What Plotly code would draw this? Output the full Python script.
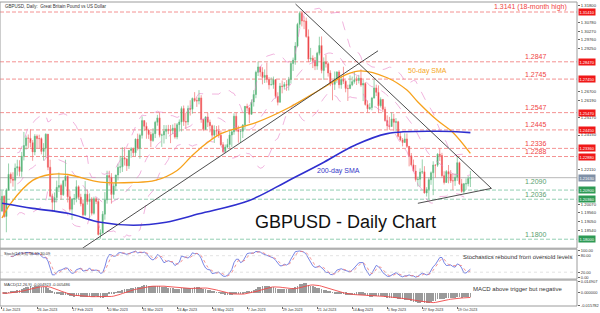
import plotly.graph_objects as go
import pandas as pd

# ---------------- data (GBPUSD daily, 4 Jan 2023 - 31 Oct 2023) ----------------
first_open = 1.1966
close = [1.2053, 1.1934, 1.2091, 1.2183, 1.2156, 1.2148, 1.2220, 1.2228, 1.2200, 1.2290,
         1.2353, 1.2398, 1.2396, 1.2370, 1.2315, 1.2408, 1.2394, 1.2394, 1.2318, 1.2337,
         1.2420, 1.2225, 1.2054, 1.2018, 1.2046, 1.2106, 1.2117, 1.2063, 1.2145, 1.2172,
         1.2050, 1.1977, 1.2038, 1.2040, 1.2110, 1.2048, 1.2009, 1.1944, 1.2066, 1.2022,
         1.2036, 1.1953, 1.2039, 1.2023, 1.1828, 1.1837, 1.1948, 1.2032, 1.2176, 1.2166,
         1.2064, 1.2114, 1.2179, 1.2224, 1.2227, 1.2281, 1.2273, 1.2233, 1.2324, 1.2334,
         1.2310, 1.2391, 1.2337, 1.2413, 1.2500, 1.2467, 1.2444, 1.2418, 1.2382, 1.2423,
         1.2490, 1.2516, 1.2414, 1.2415, 1.2437, 1.2449, 1.2441, 1.2441, 1.2455, 1.2403,
         1.2476, 1.2492, 1.2571, 1.2494, 1.2492, 1.2571, 1.2567, 1.2631, 1.2619, 1.2616,
         1.2634, 1.2508, 1.2448, 1.2522, 1.2490, 1.2470, 1.2414, 1.2443, 1.2439, 1.2413,
         1.2358, 1.2317, 1.2344, 1.2359, 1.2415, 1.2434, 1.2526, 1.2444, 1.2436, 1.2437,
         1.2474, 1.2584, 1.2574, 1.2537, 1.2610, 1.2654, 1.2785, 1.2817, 1.2787, 1.2755,
         1.2767, 1.2744, 1.2711, 1.2712, 1.2742, 1.2643, 1.2608, 1.2704, 1.2701, 1.2713,
         1.2709, 1.2743, 1.2837, 1.2857, 1.2940, 1.3068, 1.3134, 1.3088, 1.3088, 1.2996,
         1.2863, 1.2868, 1.2854, 1.2822, 1.2898, 1.2943, 1.2796, 1.2846, 1.2835, 1.2781,
         1.2718, 1.2714, 1.2747, 1.2787, 1.2712, 1.2743, 1.2732, 1.2690, 1.2689, 1.2711,
         1.2730, 1.2741, 1.2737, 1.2750, 1.2710, 1.2719, 1.2595, 1.2570, 1.2577, 1.2633,
         1.2693, 1.2667, 1.2588, 1.2625, 1.2567, 1.2500, 1.2469, 1.2465, 1.2510, 1.2490,
         1.2493, 1.2407, 1.2385, 1.2371, 1.2392, 1.2348, 1.2292, 1.2239, 1.2202, 1.2152,
         1.2154, 1.2196, 1.2198, 1.2073, 1.2094, 1.2151, 1.2192, 1.2238, 1.2237, 1.2302,
         1.2294, 1.2175, 1.2135, 1.2199, 1.2185, 1.2145, 1.2145, 1.2165, 1.2252, 1.2127,
         1.2082, 1.2127, 1.2128, 1.2158, 1.2163]
high = [1.2087, 1.2060, 1.2100, 1.2247, 1.2194, 1.2195, 1.2247, 1.2269, 1.2266, 1.2315,
        1.2433, 1.2412, 1.2418, 1.2448, 1.2385, 1.2420, 1.2418, 1.2417, 1.2401, 1.2367,
        1.2425, 1.2419, 1.2269, 1.2069, 1.2076, 1.2146, 1.2193, 1.2128, 1.2151, 1.2269,
        1.2175, 1.2087, 1.2041, 1.2067, 1.2148, 1.2118, 1.2068, 1.2035, 1.2143, 1.2092,
        1.2070, 1.2048, 1.2051, 1.2048, 1.2036, 1.1858, 1.1966, 1.2078, 1.2204, 1.2204,
        1.2190, 1.2130, 1.2180, 1.2246, 1.2292, 1.2343, 1.2343, 1.2280, 1.2325, 1.2343,
        1.2341, 1.2394, 1.2423, 1.2423, 1.2525, 1.2499, 1.2489, 1.2452, 1.2435, 1.2455,
        1.2499, 1.2534, 1.2546, 1.2423, 1.2474, 1.2473, 1.2475, 1.2474, 1.2477, 1.2485,
        1.2486, 1.2507, 1.2584, 1.2589, 1.2546, 1.2589, 1.2620, 1.2636, 1.2668, 1.2639,
        1.2680, 1.2650, 1.2510, 1.2525, 1.2547, 1.2506, 1.2476, 1.2472, 1.2468, 1.2472,
        1.2442, 1.2373, 1.2359, 1.2393, 1.2447, 1.2444, 1.2543, 1.2547, 1.2470, 1.2450,
        1.2479, 1.2586, 1.2600, 1.2580, 1.2625, 1.2680, 1.2795, 1.2848, 1.2819, 1.2815,
        1.2802, 1.2842, 1.2756, 1.2755, 1.2760, 1.2744, 1.2667, 1.2722, 1.2737, 1.2727,
        1.2739, 1.2758, 1.2849, 1.2872, 1.2963, 1.3077, 1.3144, 1.3142, 1.3116, 1.3108,
        1.3038, 1.2929, 1.2885, 1.2875, 1.2906, 1.2995, 1.2997, 1.2873, 1.2889, 1.2844,
        1.2797, 1.2738, 1.2790, 1.2791, 1.2797, 1.2768, 1.2818, 1.2739, 1.2712, 1.2767,
        1.2760, 1.2788, 1.2761, 1.2770, 1.2803, 1.2741, 1.2727, 1.2619, 1.2603, 1.2640,
        1.2746, 1.2712, 1.2708, 1.2637, 1.2627, 1.2582, 1.2531, 1.2522, 1.2548, 1.2540,
        1.2515, 1.2499, 1.2433, 1.2397, 1.2425, 1.2424, 1.2336, 1.2309, 1.2270, 1.2238,
        1.2170, 1.2218, 1.2271, 1.2231, 1.2107, 1.2164, 1.2200, 1.2260, 1.2240, 1.2308,
        1.2337, 1.2310, 1.2201, 1.2208, 1.2238, 1.2208, 1.2189, 1.2188, 1.2288, 1.2258,
        1.2156, 1.2132, 1.2159, 1.2172, 1.2203]
low = [1.1960, 1.1927, 1.1841, 1.2085, 1.2130, 1.2110, 1.2090, 1.2175, 1.2170, 1.2168,
       1.2265, 1.2329, 1.2335, 1.2342, 1.2263, 1.2296, 1.2337, 1.2334, 1.2301, 1.2264,
       1.2283, 1.2207, 1.2047, 1.1962, 1.1962, 1.2019, 1.2079, 1.2033, 1.2055, 1.2111,
       1.2017, 1.1964, 1.1915, 1.2003, 1.2018, 1.2036, 1.1994, 1.1925, 1.1937, 1.2004,
       1.1923, 1.1940, 1.1945, 1.2007, 1.1822, 1.1803, 1.1833, 1.1915, 1.2010, 1.2117,
       1.2010, 1.2039, 1.2085, 1.2147, 1.2190, 1.2197, 1.2235, 1.2203, 1.2215, 1.2281,
       1.2288, 1.2289, 1.2324, 1.2275, 1.2394, 1.2438, 1.2393, 1.2392, 1.2344, 1.2375,
       1.2397, 1.2470, 1.2401, 1.2345, 1.2365, 1.2391, 1.2420, 1.2367, 1.2420, 1.2393,
       1.2390, 1.2436, 1.2436, 1.2469, 1.2450, 1.2473, 1.2530, 1.2541, 1.2610, 1.2581,
       1.2596, 1.2487, 1.2438, 1.2445, 1.2462, 1.2431, 1.2391, 1.2368, 1.2410, 1.2398,
       1.2352, 1.2308, 1.2310, 1.2335, 1.2335, 1.2345, 1.2417, 1.2435, 1.2370, 1.2368,
       1.2397, 1.2443, 1.2554, 1.2485, 1.2538, 1.2583, 1.2632, 1.2763, 1.2760, 1.2714,
       1.2722, 1.2724, 1.2684, 1.2710, 1.2688, 1.2630, 1.2590, 1.2608, 1.2661, 1.2684,
       1.2676, 1.2678, 1.2719, 1.2793, 1.2830, 1.2932, 1.3046, 1.3056, 1.3040, 1.2989,
       1.2845, 1.2846, 1.2810, 1.2798, 1.2800, 1.2885, 1.2779, 1.2741, 1.2813, 1.2760,
       1.2703, 1.2620, 1.2681, 1.2723, 1.2690, 1.2688, 1.2716, 1.2667, 1.2616, 1.2687,
       1.2703, 1.2718, 1.2710, 1.2719, 1.2700, 1.2615, 1.2588, 1.2548, 1.2563, 1.2561,
       1.2631, 1.2645, 1.2546, 1.2577, 1.2549, 1.2494, 1.2447, 1.2445, 1.2470, 1.2440,
       1.2438, 1.2401, 1.2378, 1.2348, 1.2370, 1.2338, 1.2230, 1.2231, 1.2199, 1.2140,
       1.2111, 1.2110, 1.2185, 1.2069, 1.2052, 1.2037, 1.2121, 1.2060, 1.2163, 1.2227,
       1.2262, 1.2164, 1.2123, 1.2140, 1.2130, 1.2132, 1.2090, 1.2115, 1.2144, 1.2120,
       1.2074, 1.2069, 1.2091, 1.2112, 1.2108]
open_ = [first_open] + close[:-1]
bar_index = list(range(len(close)))

# moving averages (bar index, price)
sma50_idx = [0, 4, 14, 22, 30, 45, 60, 70, 80, 86, 90, 100, 116, 131, 146, 158, 164, 176, 185, 190, 199, 206, 214]
sma50_val = [1.1925, 1.2012, 1.2147, 1.2182, 1.2182, 1.2137, 1.2135, 1.2147, 1.2206, 1.2282, 1.2330, 1.2423,
             1.2488, 1.2576, 1.2688, 1.2776, 1.2794, 1.2753, 1.2680, 1.2610, 1.2500, 1.2430, 1.2306]
sma200_idx = [0, 14, 30, 45, 60, 75, 90, 113, 131, 146, 161, 176, 199, 214]
sma200_val = [1.2012, 1.1982, 1.1953, 1.1900, 1.1882, 1.1900, 1.1950, 1.2029, 1.2147, 1.2247, 1.2353,
              1.2423, 1.2437, 1.2429]

# horizontal levels
resist_levels = [1.3141, 1.2847, 1.2745, 1.2547, 1.2445, 1.2336, 1.2288]
resist_texts = ["1.3141 (18-month high)", "1.2847", "1.2745", "1.2547", "1.2445", "1.2336", "1.2288"]
support_levels = [1.2090, 1.2036, 1.1800]
support_texts = ["1.2090", "1.2036", "1.1800"]
last_price = 1.2163

# trend lines (bar index, price)
trend_up = [(36.8, 1.1747), (171.8, 1.2912)]
trend_down = [(134.1, 1.3188), (223.6, 1.2100)]
trend_low = [(190.0, 1.2012), (223.6, 1.2100)]

# axes ticks
date_tick_idx = [0, 16, 32, 48, 64, 80, 96, 112, 128, 144, 160, 176, 192, 208]
date_tick_text = ["4 Jan 2023", "26 Jan 2023", "17 Feb 2023", "10 Mar 2023", "31 Mar 2023", "24 Apr 2023",
                  "16 May 2023", "7 Jun 2023", "29 Jun 2023", "21 Jul 2023", "14 Aug 2023", "5 Sep 2023",
                  "27 Sep 2023", "19 Oct 2023"]
price_ticks = [1.31800, 1.31290, 1.30780, 1.30270, 1.29760, 1.29250, 1.28740, 1.28230, 1.27720, 1.27210,
               1.26700, 1.26190, 1.25680, 1.25170, 1.24660, 1.24150, 1.23640, 1.23130, 1.22620, 1.22110,
               1.21600, 1.21090, 1.20580, 1.20070, 1.19560, 1.19050, 1.18540, 1.18030]
stoch_ticks = [0, 20, 80, 100]
stoch_tick_text = ["0.00", "20.00", "80.00", "100.00"]
macd_ticks = [-0.015782, 0.0, 0.014907]
macd_tick_text = ["-0.015782", "0.000000", "0.014907"]

# ---------------- indicators derived from the candles ----------------
c = pd.Series(close)
h = pd.Series(high)
l = pd.Series(low)
bb_mid = c.rolling(20, min_periods=8).mean()
bb_sd = c.rolling(20, min_periods=8).std(ddof=0)
bb_up = bb_mid + 2 * bb_sd
bb_dn = bb_mid - 2 * bb_sd

ll = l.rolling(14, min_periods=5).min()
hh = h.rolling(14, min_periods=5).max()
k_line = 100 * (c - ll).rolling(3, min_periods=1).sum() / (hh - ll).rolling(3, min_periods=1).sum()
d_line = k_line.rolling(3, min_periods=1).mean()

ema12 = c.ewm(span=12, adjust=False).mean()
ema26 = c.ewm(span=26, adjust=False).mean()
macd = ema12 - ema26
macd_sig = macd.rolling(9, min_periods=1).mean()

# ---------------- layout geometry ----------------
W, H = 600, 313
MT, MB, MR = 1, 7, 20
PH = H - MT - MB
BOT = H - MB


def dom(top_px, bot_px):
    return [(BOT - bot_px) / PH, (BOT - top_px) / PH]


main_dom = dom(1, 248)
stoch_dom = dom(249, 279)
macd_dom = dom(280, 306)
xr = [-0.91, 262.7]
FONT = "Liberation Sans, Arial, sans-serif"

# hide axis labels that sit under a price tag
tag_levels = resist_levels + support_levels + [last_price]
shown_ticks = [t for t in price_ticks if min(abs(t - lv) for lv in tag_levels) > 0.0028]

fig = go.Figure()

# Bollinger bands
for s in (bb_up, bb_mid, bb_dn):
    fig.add_trace(go.Scatter(x=bar_index, y=s, mode="lines",
                             line=dict(color="rgba(232,130,200,0.75)", width=0.8, dash="dash"),
                             xaxis="x", yaxis="y", hoverinfo="skip"))

# candles
fig.add_trace(go.Candlestick(x=bar_index, open=open_, high=high, low=low, close=close,
                             increasing=dict(line=dict(color="#6cbf8a", width=0.7), fillcolor="#34a05a"),
                             decreasing=dict(line=dict(color="#f27070", width=0.7), fillcolor="#e8161f"),
                             whiskerwidth=0, xaxis="x", yaxis="y"))

# SMAs
fig.add_trace(go.Scatter(x=sma50_idx, y=sma50_val, mode="lines", line=dict(color="#f7a21b", width=1.3, shape="spline"),
                         xaxis="x", yaxis="y"))
fig.add_trace(go.Scatter(x=sma200_idx, y=sma200_val, mode="lines", line=dict(color="#2f2fcf", width=1.6, shape="spline"),
                         xaxis="x", yaxis="y"))

# stochastics
fig.add_trace(go.Scatter(x=bar_index, y=k_line, mode="lines", line=dict(color="#5566dd", width=0.8),
                         xaxis="x2", yaxis="y2"))
fig.add_trace(go.Scatter(x=bar_index, y=d_line, mode="lines", line=dict(color="#f07a7a", width=0.8, dash="dot"),
                         xaxis="x2", yaxis="y2"))

# MACD
fig.add_trace(go.Bar(x=bar_index, y=macd, marker=dict(color="#9a9a9a", line=dict(width=0)), width=0.35,
                     xaxis="x3", yaxis="y3"))
fig.add_trace(go.Scatter(x=bar_index, y=macd_sig, mode="lines", line=dict(color="#f04848", width=0.9),
                         xaxis="x3", yaxis="y3"))

shapes = []
for lv in resist_levels:
    shapes.append(dict(type="line", xref="paper", yref="y", x0=0, x1=1, y0=lv, y1=lv,
                       line=dict(color="rgba(240,110,110,0.75)", width=1, dash="4px,2px"), layer="below"))
for lv in support_levels:
    shapes.append(dict(type="line", xref="paper", yref="y", x0=0, x1=1, y0=lv, y1=lv,
                       line=dict(color="rgba(120,195,160,0.8)", width=1, dash="4px,2px"), layer="below"))
shapes.append(dict(type="line", xref="paper", yref="y", x0=0, x1=1, y0=last_price, y1=last_price,
                   line=dict(color="#b8b8b8", width=1), layer="below"))
for tl in (trend_up, trend_down, trend_low):
    shapes.append(dict(type="line", xref="x", yref="y", x0=tl[0][0], y0=tl[0][1], x1=tl[1][0], y1=tl[1][1],
                       line=dict(color="#3a3a3a", width=0.9)))
for v in (20, 80):
    shapes.append(dict(type="line", xref="paper", yref="y2", x0=0, x1=1, y0=v, y1=v,
                       line=dict(color="#d0d0d0", width=0.6, dash="dot")))
for d in (main_dom, stoch_dom, macd_dom):
    shapes.append(dict(type="rect", xref="paper", yref="paper", x0=0, x1=1, y0=d[0], y1=d[1],
                       line=dict(color="#9c9c9c", width=1)))

ann = []
for lv, tx in zip(resist_levels, resist_texts):
    xpos = 0.986 if "high" in tx else 0.952
    ann.append(dict(x=xpos, xref="paper", xanchor="right", y=lv, yref="y", yanchor="middle", yshift=5,
                    text=tx, showarrow=False, font=dict(family=FONT, size=7, color="#f04444")))
for lv, tx in zip(support_levels, support_texts):
    ann.append(dict(x=0.952, xref="paper", xanchor="right", y=lv, yref="y", yanchor="middle",
                    yshift=9 if tx == "1.2090" else 5,
                    text=tx, showarrow=False, font=dict(family=FONT, size=7, color="#5aa070")))
# right-side price tags
for lv in resist_levels:
    ann.append(dict(x=1, xref="paper", xanchor="left", xshift=1, y=lv, yref="y", yanchor="middle",
                    text=f"{lv:.5f}", showarrow=False, bgcolor="#f01818", borderpad=0.5,
                    font=dict(family=FONT, size=4, color="white")))
for lv in support_levels:
    ann.append(dict(x=1, xref="paper", xanchor="left", xshift=1, y=lv, yref="y", yanchor="middle",
                    text=f"{lv:.5f}", showarrow=False, bgcolor="#2e9a55", borderpad=0.5,
                    font=dict(family=FONT, size=4, color="white")))
ann.append(dict(x=1, xref="paper", xanchor="left", xshift=1, y=last_price, yref="y", yanchor="middle",
                text=f"{last_price:.5f}", showarrow=False, bgcolor="#7f90a6", borderpad=0.5,
                font=dict(family=FONT, size=4, color="white")))

ann += [
    dict(x=0.005, xref="paper", xanchor="left", y=1, yref="paper", yanchor="top",
         text="GBPUSD, Daily:  Great Britain Pound vs US Dollar", showarrow=False,
         font=dict(family=FONT, size=4.5, color="#333")),
    dict(x=347 / 580, xref="paper", xanchor="center", y=1.1900, yref="y", yanchor="middle",
         text="GBPUSD - Daily Chart", showarrow=False, font=dict(family=FONT, size=18, color="#111")),
    dict(x=430 / 580, xref="paper", xanchor="center", y=1.2793, yref="y", yanchor="middle",
         text="50-day SMA", showarrow=False, font=dict(family=FONT, size=7, color="#f5a623")),
    dict(x=340 / 580, xref="paper", xanchor="center", y=1.2200, yref="y", yanchor="middle",
         text="200-day SMA", showarrow=False, font=dict(family=FONT, size=7, color="#3535c8")),
    dict(x=0.004, xref="paper", xanchor="left", y=stoch_dom[1], yref="paper", yanchor="top",
         text="Stoch(14,3,3) 58.95 30.09", showarrow=False, font=dict(family=FONT, size=4, color="#333")),
    dict(x=0.004, xref="paper", xanchor="left", y=macd_dom[1], yref="paper", yanchor="top",
         text="MACD(12,26,9) -0.004923 -0.005486", showarrow=False, font=dict(family=FONT, size=4, color="#333")),
    dict(x=0.995, xref="paper", xanchor="right", y=75, yref="y2", yanchor="middle",
         text="Stochastics rebound from oversold levels", showarrow=False,
         font=dict(family=FONT, size=6, color="#333")),
    dict(x=0.978, xref="paper", xanchor="right", y=0.0054, yref="y3", yanchor="middle",
         text="MACD above trigger but negative", showarrow=False,
         font=dict(family=FONT, size=6, color="#333")),
]

axis_common = dict(showgrid=False, zeroline=False, showline=False)
fig.update_layout(
    width=W, height=H, margin=dict(l=0, r=MR, t=MT, b=MB),
    paper_bgcolor="white", plot_bgcolor="white", showlegend=False, bargap=0,
    font=dict(family=FONT, color="#333"),
    xaxis=dict(domain=[0, 1], range=xr, anchor="y", showticklabels=False, rangeslider=dict(visible=False),
               **axis_common),
    xaxis2=dict(domain=[0, 1], range=xr, anchor="y2", matches="x", showticklabels=False, **axis_common),
    xaxis3=dict(domain=[0, 1], range=xr, anchor="y3", matches="x", tickvals=date_tick_idx, ticktext=date_tick_text,
                ticks="outside", ticklen=2, tickcolor="#666", ticklabelposition="outside right",
                tickfont=dict(family=FONT, size=3.6, color="#333"), **axis_common),
    yaxis=dict(domain=main_dom, range=[1.1747, 1.3200], side="right", anchor="x", tickvals=shown_ticks,
               ticktext=[f"{v:.5f}" for v in shown_ticks], ticks="outside", ticklen=2, tickcolor="#666",
               tickfont=dict(family=FONT, size=4.2, color="#333"), **axis_common),
    yaxis2=dict(domain=stoch_dom, range=[-5, 103.6], side="right", anchor="x2", tickvals=stoch_ticks,
                ticktext=stoch_tick_text, ticks="outside", ticklen=2, tickcolor="#666",
                tickfont=dict(family=FONT, size=4, color="#333"), **axis_common),
    yaxis3=dict(domain=macd_dom, range=[-0.0166, 0.0164], side="right", anchor="x3", tickvals=macd_ticks,
                ticktext=macd_tick_text, ticks="outside", ticklen=2, tickcolor="#666",
                tickfont=dict(family=FONT, size=4, color="#333"), **axis_common),
    shapes=shapes, annotations=ann,
)

fig.write_html("out.html")
